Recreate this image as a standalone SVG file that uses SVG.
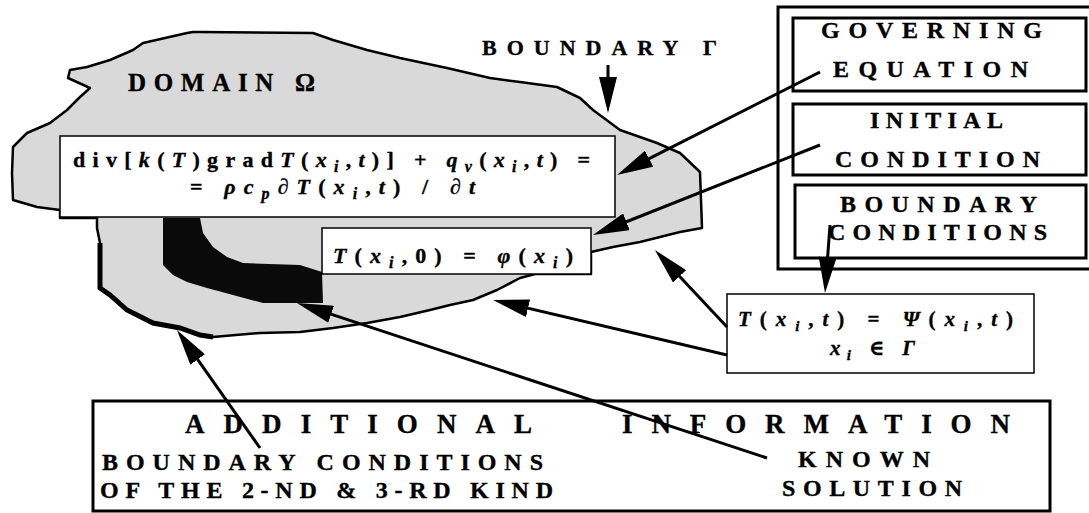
<svg xmlns="http://www.w3.org/2000/svg" width="1089" height="513" viewBox="0 0 1089 513">
<style>
.t{font-family:"Liberation Serif","Times New Roman","DejaVu Serif",serif;font-weight:700;fill:#000;stroke:#000;stroke-width:0.35}
.i{font-style:italic}
.box{fill:#fff;stroke:#000;stroke-width:1.5}
.tbox{fill:#fff;stroke:#000;stroke-width:3}
.conn line{stroke:#000;stroke-width:3;marker-end:url(#ah)}
</style>
<defs>
<marker id="ah" markerUnits="userSpaceOnUse" viewBox="0 0 36 18" markerWidth="36" markerHeight="18" refX="21" refY="9" orient="auto">
<path d="M0,0 L36,9 L0,18 Z" fill="#000"/>
</marker>
</defs>
<rect width="1089" height="513" fill="#fff"/>
<g id="domain">
<path d="M193,32 L200,32 L313,33 L333,40 L367,50 L400,58 L447,68 L490,78 L520,82 L557,87 L580,98 L593,110 L620,130 L657,143 L680,153 L700,172 L702,228 L680,232 L640,242 L613,247 L591,252 L591,274 L535,274 L520,278 L497,290 L473,300 L450,305 L430,310 L400,317 L367,323 L333,328 L300,332 L260,333 L213,337 L200,335 L180,328 L153,323 L127,310 L110,295 L100,288 L100,243 L97,228 L97,218 L60,218 L60,210 L37,207 L13,200 L12,173 L13,147 L27,133 L50,123 L67,110 L80,97 L90,88 L68,78 L70,70 L87,67 L110,60 L133,50 L143,43 L187,33 Z" fill="#d9d9d9" stroke="#000" stroke-width="2.5" stroke-linejoin="round"/>
<path d="M100,243 L100,288 L110,295 L127,310 L153,323 L180,328 L200,335 L213,337" fill="none" stroke="#000" stroke-width="5"/>
<path d="M163,218 L200,218 L203,233 L213,247 L227,257 L243,263 L300,265 L322,272 L323,303 L263,303 L233,295 L207,288 L187,282 L173,275 L163,265 Z" fill="#0a0a0a"/>
<text class="t" x="128" y="91" font-size="25" textLength="187" lengthAdjust="spacing">DOMAIN Ω</text>
</g>
<g id="boundary-label">
<text class="t" x="482" y="55" font-size="22" textLength="235" lengthAdjust="spacing">BOUNDARY Γ</text>
</g>
<g id="equation">
<rect class="box" x="60" y="136" width="555" height="81"/>
<text class="t" x="73" y="167" font-size="22" textLength="517" lengthAdjust="spacing">div[<tspan class="i">k</tspan>(<tspan class="i">T</tspan>)grad<tspan class="i">T</tspan>(<tspan class="i">x</tspan><tspan class="i" dy="5" font-size="16">i</tspan><tspan dy="-5">,</tspan><tspan class="i">t</tspan>)] + <tspan class="i">q</tspan><tspan class="i" dy="5" font-size="16">v</tspan><tspan dy="-5">(</tspan><tspan class="i">x</tspan><tspan class="i" dy="5" font-size="16">i</tspan><tspan dy="-5">,</tspan><tspan class="i">t</tspan>) =</text>
<text class="t" x="190" y="194" font-size="22" textLength="285" lengthAdjust="spacing">= <tspan class="i">ρc</tspan><tspan class="i" dy="5" font-size="16">p</tspan><tspan class="i" dy="-5">∂T</tspan>(<tspan class="i">x</tspan><tspan class="i" dy="5" font-size="16">i</tspan><tspan dy="-5">,</tspan><tspan class="i">t</tspan>) / <tspan class="i">∂t</tspan></text>
</g>
<g id="initial">
<rect class="box" x="322" y="228" width="269" height="46"/>
<text class="t" x="333" y="263" font-size="22" textLength="240" lengthAdjust="spacing"><tspan class="i">T</tspan>(<tspan class="i">x</tspan><tspan class="i" dy="5" font-size="16">i</tspan><tspan dy="-5">,0) = </tspan><tspan class="i">φ</tspan>(<tspan class="i">x</tspan><tspan class="i" dy="5" font-size="16">i</tspan><tspan dy="-5">)</tspan></text>
</g>
<g id="conditions-panel">
<rect class="tbox" x="778" y="7" width="320" height="262"/>
<g id="governing">
<rect class="tbox" x="793" y="18" width="293" height="73"/>
<text class="t" x="821" y="38" font-size="24" textLength="221" lengthAdjust="spacing">GOVERNING</text>
<text class="t" x="833" y="77" font-size="24" textLength="195" lengthAdjust="spacing">EQUATION</text>
</g>
<g id="initial-cond">
<rect class="tbox" x="793" y="104" width="293" height="71"/>
<text class="t" x="870" y="128" font-size="24" textLength="133" lengthAdjust="spacing">INITIAL</text>
<text class="t" x="835" y="167" font-size="24" textLength="205" lengthAdjust="spacing">CONDITION</text>
</g>
<g id="boundary-cond">
<rect class="tbox" x="795" y="185" width="291" height="73"/>
<text class="t" x="840" y="212" font-size="24" textLength="197" lengthAdjust="spacing">BOUNDARY</text>
<text class="t" x="828" y="240" font-size="24" textLength="219" lengthAdjust="spacing">CONDITIONS</text>
</g>
</g>
<g id="bc-formula">
<rect class="box" x="727" y="294" width="307" height="79"/>
<text class="t" x="738" y="326" font-size="21" textLength="275" lengthAdjust="spacing"><tspan class="i">T</tspan>(<tspan class="i">x</tspan><tspan class="i" dy="5" font-size="15">i</tspan><tspan dy="-5">,</tspan><tspan class="i">t</tspan>) = <tspan class="i">Ψ</tspan>(<tspan class="i">x</tspan><tspan class="i" dy="5" font-size="15">i</tspan><tspan dy="-5">,</tspan><tspan class="i">t</tspan>)</text>
<text class="t" x="830" y="355" font-size="21" textLength="85" lengthAdjust="spacing"><tspan class="i">x</tspan><tspan class="i" dy="5" font-size="15">i</tspan><tspan dy="-5"> ∈ </tspan><tspan class="i">Γ</tspan></text>
</g>
<g id="additional">
<rect class="tbox" x="93" y="401" width="957" height="110"/>
<text class="t" x="185" y="433" font-size="27" textLength="347" lengthAdjust="spacing">ADDITIONAL</text>
<text class="t" x="622" y="433" font-size="27" textLength="388" lengthAdjust="spacing">INFORMATION</text>
<text class="t" x="102" y="470" font-size="24" textLength="441" lengthAdjust="spacing">BOUNDARY CONDITIONS</text>
<text class="t" x="100" y="498" font-size="24" textLength="453" lengthAdjust="spacing">OF THE 2-ND &amp; 3-RD KIND</text>
<text class="t" x="798" y="467" font-size="24" textLength="132" lengthAdjust="spacing">KNOWN</text>
<text class="t" x="782" y="496" font-size="24" textLength="180" lengthAdjust="spacing">SOLUTION</text>
</g>
<g id="connectors" class="conn">
<line x1="608" y1="65" x2="608" y2="98"/>
<line x1="820" y1="72" x2="630.4" y2="168.2"/>
<line x1="820" y1="145" x2="606.9" y2="229.5"/>
<line x1="830" y1="225" x2="826.1" y2="278"/>
<line x1="727" y1="327" x2="665.2" y2="261"/>
<line x1="727" y1="355" x2="507.6" y2="303.4"/>
<line x1="767" y1="458" x2="311.2" y2="307.7"/>
<line x1="260" y1="448" x2="185.6" y2="342.3"/>
</g>
</svg>
